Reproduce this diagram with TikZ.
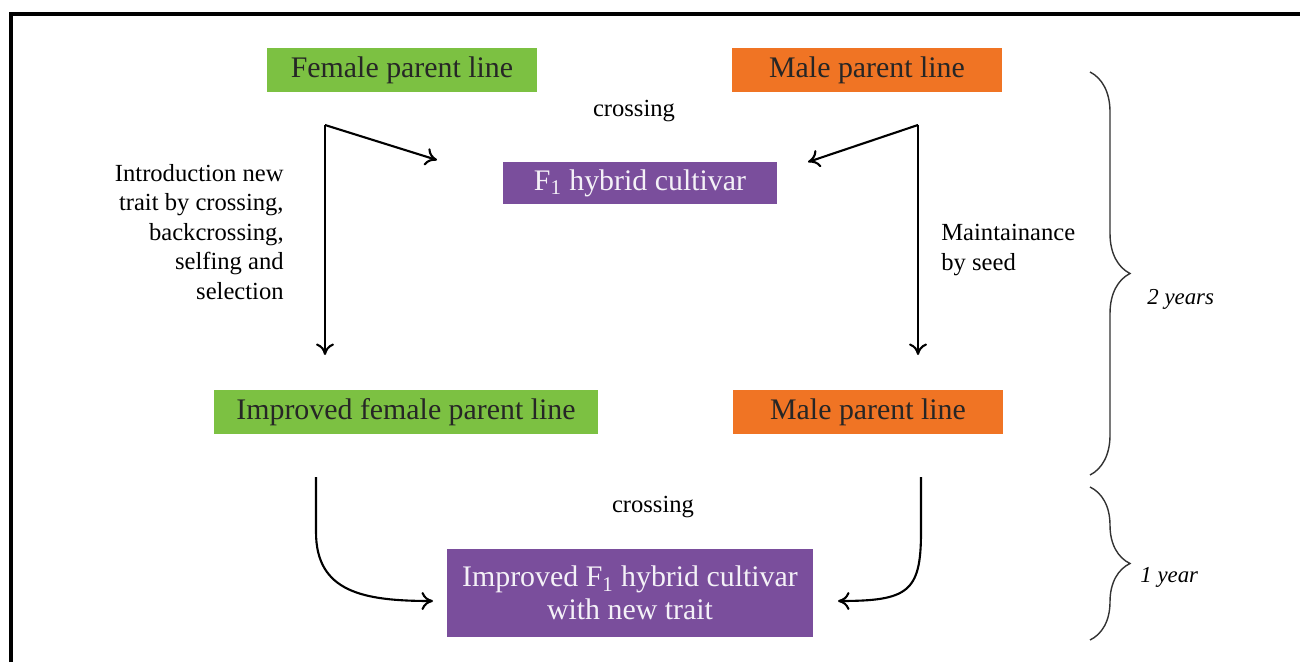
\documentclass[tikz,border=0pt]{standalone}
\usepackage{fontspec}
\setmainfont{Liberation Serif}
\usetikzlibrary{positioning,arrows.meta,decorations.pathreplacing}
\definecolor{parentgreen}{RGB}{124,193,66}
\definecolor{parentorange}{RGB}{240,116,36}
\definecolor{hybridpurple}{RGB}{122,78,156}
\tikzset{linebox/.style={rectangle,inner sep=0pt,minimum height=0.88cm,
minimum width=5.42cm,font=\fontsize{17}{20}\selectfont,text=black!85},
sidetext/.style={font=\fontsize{14}{16.8}\selectfont,inner sep=0pt}}
\tikzstyle{female} = [linebox, fill=parentgreen]
\tikzstyle{male}   = [linebox, fill=parentorange]
\tikzstyle{hybrid} = [linebox, fill=hybridpurple, text=white!92!hybridpurple]
\tikzstyle{flow}   = [line width=1.2pt,-{To[length=2.3mm,width=3.6mm]}]
\tikzstyle{span}   = [decorate,decoration={brace,amplitude=0.8cm},
                      line width=0.8pt,black!80]

\begin{document}
\begin{tikzpicture}[x=0.02cm,y=-0.02cm]
	\useasboundingbox (0,0) rectangle (1300,662);
	\draw[line width=2pt] (11,662) -- (11,14) -- (1300,14);

	% parent lines
	\node[female] (femtop) at (402,70) {Female parent line};
	\node[male] (maletop) at (867,70) {Male parent line};
	\node[hybrid,minimum width=5.48cm,minimum height=0.86cm] (hybrid) at (640,183) {F\textsubscript{1} hybrid cultivar};
	\node[female,minimum width=7.68cm] (femnew) at (406,412) {Improved female parent line};
	\node[male] (malebot) at (868,412) {Male parent line};
	\node[hybrid,minimum width=7.32cm,minimum height=1.76cm,align=center,
		font=\fontsize{17}{19}\selectfont] (hybridnew) at (630,593)
		{Improved F\textsubscript{1} hybrid cultivar\\with new trait};

	% labels
	\node[sidetext] (cross1) at (634,111) {crossing};
	\node[sidetext] (cross2) at (653,507) {crossing};
	\node[sidetext,align=right,anchor=east] (intro) at (284,232)
		{Introduction new\\trait by crossing,\\backcrossing,\\selfing and\\selection};
	\node[sidetext,align=left,anchor=west] (maint) at (941,250)
		{Maintainance\\by seed};

	% connectors
	\coordinate (lcorner) at (325,125);
	\coordinate (ltip) at (437,160);
	\coordinate (ldown) at (325,355);
	\coordinate (rcorner) at (918,125);
	\coordinate (rtip) at (808,162);
	\coordinate (rdown) at (918,355);
	\coordinate (lstart) at (316,477);
	\coordinate (lend) at (433,601);
	\coordinate (rstart) at (921,477);
	\coordinate (rend) at (838,601);

	\draw[flow] (lcorner) -- (ltip);
	\draw[flow] (lcorner) -- (ldown);
	\draw[flow] (rcorner) -- (rtip);
	\draw[flow] (rcorner) -- (rdown);
	\draw[flow] (lstart) -- ++(0,55) .. controls +(0,60) and +(-70,0) .. (lend);
	\draw[flow] (rstart) -- ++(0,55) .. controls +(0,60) and +(70,0) .. (rend);

	% time spans
	\coordinate (span1a) at (1090,72);
	\coordinate (span1b) at (1090,475);
	\coordinate (span2a) at (1090,487);
	\coordinate (span2b) at (1090,640);
	\draw[span] (span1a) -- (span1b);
	\draw[span] (span2a) -- (span2b);
	\node[sidetext,font=\fontsize{13}{15}\itshape,anchor=west] (two) at (1147,299) {2 years};
	\node[sidetext,font=\fontsize{13}{15}\itshape,anchor=west] (one) at (1140,577) {1 year};
\end{tikzpicture}
\end{document}
